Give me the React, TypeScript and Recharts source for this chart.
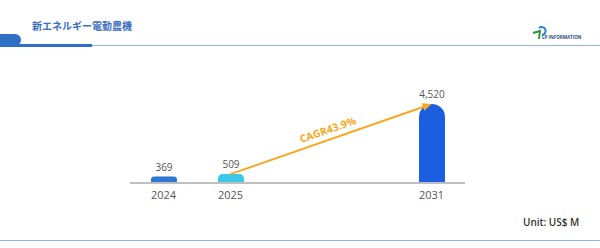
import React from 'react';
import { BarChart, Bar, XAxis, YAxis, Cell, LabelList, ReferenceLine } from 'recharts';

const YEARS = ['2024', '2025', '', '', '2031'];
const VALUES = [369, 509, null, null, 4520];
const BAR_COLORS = ['#2f76d2', '#3cc6e8', '#1b5fe0', '#1b5fe0', '#1b5fe0'];
const CAGR_FROM = 1; // index of 2025
const CAGR_TO = 4; // index of 2031
const CAGR_LABEL = 'CAGR43.9%';
const TITLE = '新エネルギー電動農機';
const UNIT = 'Unit: US$ M';

const FONT = '"Open Sans", "Noto Sans", "Noto Sans CJK JP", sans-serif';

const rows = YEARS.map((year, i) => ({ year, value: VALUES[i] }));

/* arrow from the 2025 bar top to the 2031 bar top, with the CAGR text riding on it */
function CagrArrow(props: any) {
  const { x1, y1, x2, y2 } = props;
  if ([x1, y1, x2, y2].some(v => v == null || Number.isNaN(v))) return null;
  const ang = Math.atan2(y2 - y1, x2 - x1);
  const deg = (ang * 180) / Math.PI;
  const head = 9;
  const hx = x2 - head * Math.cos(ang);
  const hy = y2 - head * Math.sin(ang);
  const nx = -Math.sin(ang) * 4;
  const ny = Math.cos(ang) * 4;
  const mx = (x1 + x2) / 2;
  const my = (y1 + y2) / 2;
  return (
    <g>
      <line x1={x1} y1={y1} x2={hx} y2={hy} stroke="#f7a823" strokeWidth={2} />
      <polygon points={`${x2},${y2} ${hx + nx},${hy + ny} ${hx - nx},${hy - ny}`} fill="#f7a823" />
      <text
        x={mx}
        y={my}
        transform={`rotate(${deg} ${mx} ${my})`}
        textAnchor="middle"
        dy={-6}
        fill="#f7a823"
        fontSize={10.5}
        fontWeight={700}
        fontFamily={FONT}
      >
        {CAGR_LABEL}
      </text>
    </g>
  );
}

function Header() {
  return (
    <>
      <div style={{ position: 'absolute', left: 32, top: 18, fontSize: 10, fontWeight: 700, color: '#3a6fc4', fontFamily: FONT }}>
        {TITLE}
      </div>
      <div style={{ position: 'absolute', left: -10, top: 34, width: 31, height: 12, background: '#2f6fc6', borderRadius: '0 8px 8px 0' }} />
      <div style={{ position: 'absolute', left: 0, top: 44, width: 92, height: 3, background: '#2f6fc6' }} />
      <div style={{ position: 'absolute', left: 92, top: 45, width: 508, height: 1, background: '#8fb6ea' }} />
      <div style={{ position: 'absolute', left: 0, top: 240, width: 600, height: 1, background: '#8fb6ea' }} />
      <svg style={{ position: 'absolute', left: 530, top: 22 }} width={60} height={20}>
        <path d="M9 6 a4 4 0 1 1 3 7" stroke="#2a7bd4" strokeWidth={2} fill="none" />
        <path d="M3 11 L10 9 L9 17" stroke="#2a9a3a" strokeWidth={2} fill="none" />
        <text x={12} y={17} fontSize={4.5} fill="#2a4a7a" fontFamily={FONT} fontWeight={700}>LP INFORMATION</text>
      </svg>
      <div style={{ position: 'absolute', left: 523, top: 215, fontSize: 10, fontWeight: 600, color: '#333', fontFamily: FONT }}>
        {UNIT}
      </div>
    </>
  );
}

export default function App() {
  return (
    <div style={{ position: 'fixed', left: 0, top: 0, width: 600, height: 248, background: '#fff', overflow: 'hidden' }}>
      <Header />
      <div style={{ position: 'absolute', left: 0, top: 0 }}>
        <BarChart width={600} height={248} data={rows} margin={{ top: 104, right: 135, left: 130, bottom: 45 }}>
          <XAxis
            dataKey="year"
            tickLine={false}
            axisLine={{ stroke: '#bfbfbf', strokeWidth: 2 }}
            tick={{ fontSize: 11, fill: '#555', fontFamily: FONT }}
            height={20}
            interval={0}
          />
          <YAxis hide domain={[0, 4520]} />
          <Bar dataKey="value" barSize={26} radius={[13, 13, 0, 0]} isAnimationActive={false}>
            {rows.map((_, i) => (
              <Cell key={i} fill={BAR_COLORS[i]} />
            ))}
            <LabelList
              dataKey="value"
              position="top"
              offset={6}
              style={{ fontSize: 10, fill: '#555', fontFamily: FONT }}
              formatter={(v: any) => (v == null ? '' : Number(v).toLocaleString('en-US'))}
            />
          </Bar>
          <ReferenceLine
            segment={[{ x: CAGR_FROM, y: VALUES[CAGR_FROM] }, { x: CAGR_TO, y: VALUES[CAGR_TO] }]}
            shape={<CagrArrow />}
            ifOverflow="visible"
          />
        </BarChart>
      </div>
    </div>
  );
}
